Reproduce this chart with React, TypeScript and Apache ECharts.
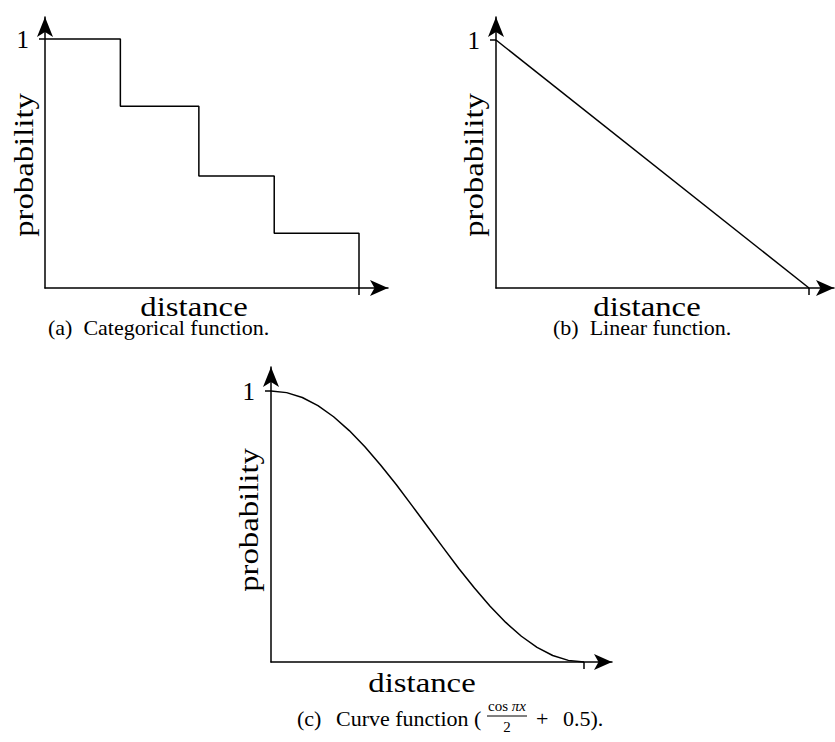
import React, { useEffect, useRef } from "react";
import * as echarts from "echarts";

// (a) categorical: step breakpoints along distance and the probability held on each step
const stepBreaks = [0.24, 0.49, 0.73, 1.0];
const stepLevels = [1, 0.73, 0.45, 0.22];

// (b) linear
const linearX = [0, 1];
const linearY = [1, 0];

// (c) curve (cos(pi x)/2 + 0.5)
const curveX = [0, 0.05, 0.1, 0.15, 0.2, 0.25, 0.3, 0.35, 0.4, 0.45, 0.5, 0.55, 0.6, 0.65, 0.7, 0.75, 0.8, 0.85, 0.9, 0.95, 1];
const curveY = [1, 0.994, 0.976, 0.946, 0.905, 0.854, 0.794, 0.727, 0.655, 0.578, 0.5, 0.422, 0.345, 0.273, 0.206, 0.146, 0.095, 0.054, 0.024, 0.006, 0];

const yTickValues = [1];
const xTickValues = [1];
const xName = "distance";
const yName = "probability";
const captionA = "(a)  Categorical function.";
const captionB = "(b)  Linear function.";
const captionCTag = "(c)";
const captionC = "Curve function (";
const fracNum = "cos {i|πx}";
const fracDen = "2";
const captionCPlus = "+";
const captionCTail = "0.5).";

const SERIF = "Liberation Serif, Times New Roman, serif";

// Pixel frame of each panel: origin, length of one unit, and where the arrowed axis lines end
const panels = [
  { ox: 45, oy: 288, ux: 314, uy: 249, xEnd: 388, yEnd: 17 },
  { ox: 496, oy: 288, ux: 313, uy: 248, xEnd: 834, yEnd: 17 },
  { ox: 271, oy: 662, ux: 313, uy: 271, xEnd: 612, yEnd: 367 },
];

function stepPoints(): number[][] {
  const pts: number[][] = [];
  let start = 0;
  stepBreaks.forEach((b, i) => {
    pts.push([start, stepLevels[i]]);
    pts.push([b, stepLevels[i]]);
    start = b;
  });
  pts.push([stepBreaks[stepBreaks.length - 1], 0]);
  return pts;
}

export default function App() {
  const ref = useRef<HTMLDivElement>(null);

  useEffect(() => {
    document.body.style.margin = "0";
    if (!ref.current) return;
    const chart = echarts.init(ref.current, undefined, { renderer: "svg" });

    const grids = panels.map((p) => ({
      left: p.ox,
      top: p.yEnd,
      width: p.xEnd - p.ox,
      height: p.oy - p.yEnd,
      containLabel: false,
    }));

    const axisLine = (size: number[]) => ({
      show: true,
      symbol: ["none", "arrow"],
      symbolSize: size,
      lineStyle: { color: "#000", width: 1.5 },
    });

    const xAxes = panels.map((p, i) => ({
      type: "value",
      gridIndex: i,
      min: 0,
      max: (p.xEnd - p.ox) / p.ux,
      axisLine: axisLine([12, 18]),
      axisTick: {
        show: true,
        customValues: xTickValues,
        length: 7,
        lineStyle: { color: "#000", width: 1.5 },
      },
      axisLabel: { show: false },
      splitLine: { show: false },
    }));

    const yAxes = panels.map((p, i) => ({
      type: "value",
      gridIndex: i,
      min: 0,
      max: (p.oy - p.yEnd) / p.uy,
      axisLine: axisLine([12, 20]),
      axisTick: {
        show: true,
        customValues: yTickValues,
        length: 6,
        lineStyle: { color: "#000", width: 1.5 },
      },
      axisLabel: {
        show: true,
        customValues: yTickValues,
        formatter: (v: number) => String(v),
        fontSize: 25,
        fontFamily: SERIF,
        color: "#000",
        margin: 16,
      },
      splitLine: { show: false },
    }));

    const lineStyle = { color: "#000", width: 1.5 };
    const series = [
      {
        type: "line",
        xAxisIndex: 0,
        yAxisIndex: 0,
        data: stepPoints(),
        showSymbol: false,
        lineStyle,
        clip: false,
      },
      {
        type: "line",
        xAxisIndex: 1,
        yAxisIndex: 1,
        data: linearX.map((x, i) => [x, linearY[i]]),
        showSymbol: false,
        lineStyle,
        clip: false,
      },
      {
        type: "line",
        xAxisIndex: 2,
        yAxisIndex: 2,
        data: curveX.map((x, i) => [x, curveY[i]]),
        showSymbol: false,
        smooth: false,
        lineStyle: { ...lineStyle, join: "round" },
        clip: false,
      },
    ];

    const text = (t: string, x: number, y: number, size: number, opts: any = {}) => ({
      type: "text",
      x,
      y,
      rotation: opts.rotation || 0,
      scaleX: opts.scaleX || 1,
      style: {
        text: t,
        fontFamily: SERIF,
        fontSize: size,
        fill: "#000",
        align: opts.align || "center",
        verticalAlign: "middle",
        rich: opts.rich,
      },
    });

    const nameOpts = { scaleX: 1.17 };
    const rotOpts = { scaleX: 1.17, rotation: Math.PI / 2 };

    const graphic: any[] = [
      // axis names
      text(yName, 24, 165, 28, rotOpts),
      text(yName, 474, 165, 28, rotOpts),
      text(yName, 249, 520, 28, rotOpts),
      text(xName, 194, 307, 28, nameOpts),
      text(xName, 647, 307, 28, nameOpts),
      text(xName, 422, 683, 28, nameOpts),
      // captions
      text(captionA, 48, 327, 22, { align: "left" }),
      text(captionB, 553, 327, 22, { align: "left" }),
      text(captionCTag, 297, 718, 22, { align: "left" }),
      text(captionC, 336, 718, 22, { align: "left" }),
      {
        type: "text",
        x: 507,
        y: 706,
        style: {
          text: fracNum,
          fontFamily: SERIF,
          fontSize: 15,
          fill: "#000",
          align: "center",
          verticalAlign: "middle",
          rich: { i: { fontFamily: SERIF, fontStyle: "italic", fontSize: 15 } },
        },
      },
      {
        type: "line",
        shape: { x1: 487, y1: 716, x2: 527, y2: 716 },
        style: { stroke: "#000", lineWidth: 1 },
      },
      text(fracDen, 507, 727, 15),
      text(captionCPlus, 536, 718, 22, { align: "left" }),
      text(captionCTail, 563, 718, 22, { align: "left" }),
    ];

    chart.setOption({
      animation: false,
      backgroundColor: "#fff",
      grid: grids,
      xAxis: xAxes,
      yAxis: yAxes,
      series,
      graphic,
    });

    return () => chart.dispose();
  }, []);

  return <div ref={ref} style={{ width: 835, height: 742 }} />;
}
